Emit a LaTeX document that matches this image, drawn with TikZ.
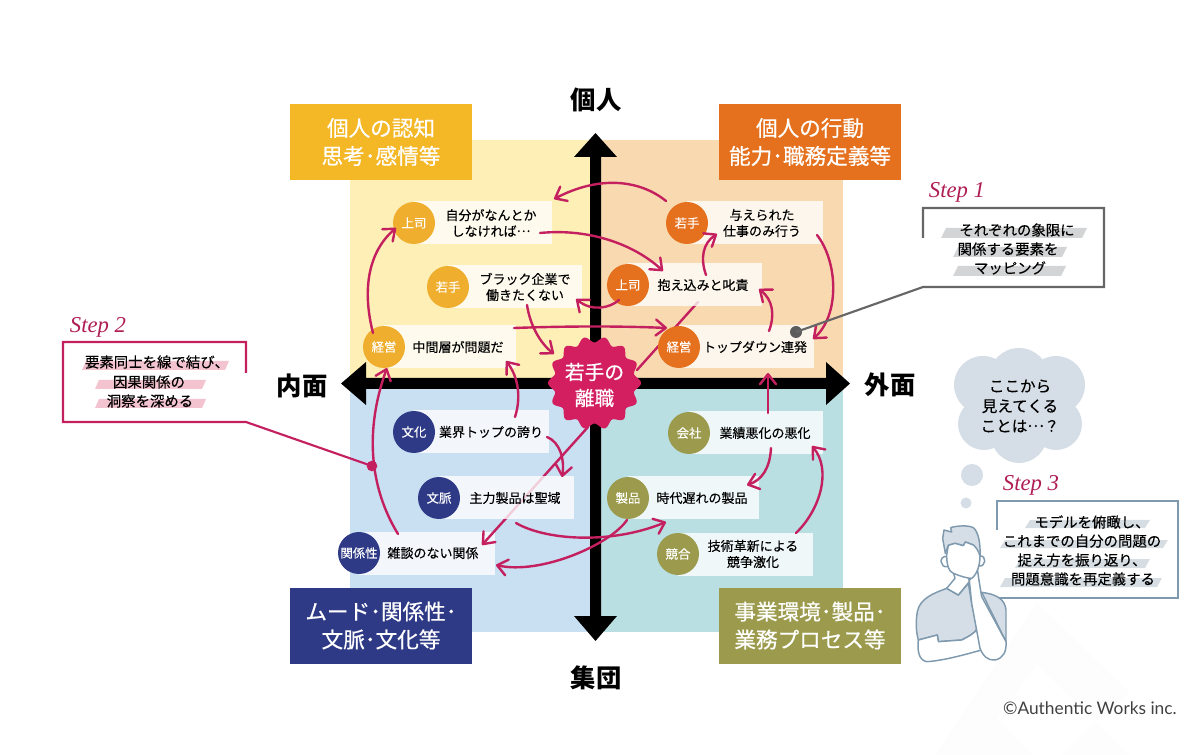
\documentclass[tikz,border=0pt]{standalone}
\usepackage{fontspec}
\usetikzlibrary{arrows.meta}
\setmainfont{Noto Sans CJK JP}
\newfontfamily\jpm[FakeBold=0.2]{Noto Sans CJK JP}
\newfontfamily\jpx[FakeBold=0.5]{Noto Sans CJK JP}
\newfontfamily\latinfont{Lato}
\newfontfamily\stepfont{Liberation Serif}
\definecolor{qY}{HTML}{FDEFB5}
\definecolor{qO}{HTML}{F9DAB0}
\definecolor{qB}{HTML}{C9DFF2}
\definecolor{qT}{HTML}{B9DFE3}
\definecolor{cY}{HTML}{EFAE2E}
\definecolor{cO}{HTML}{E5711E}
\definecolor{cN}{HTML}{2E3A86}
\definecolor{cG}{HTML}{9C9B4D}
\definecolor{bY}{HTML}{F4B725}
\definecolor{crim}{HTML}{C4205F}
\definecolor{burstc}{HTML}{D31F60}
\definecolor{stepG}{HTML}{666666}
\definecolor{stepB}{HTML}{7F9AAE}
\definecolor{hlG}{HTML}{D3D4D5}
\definecolor{hlP}{HTML}{F3C3CF}
\definecolor{hlB}{HTML}{D7DEE3}
\definecolor{cloudc}{HTML}{D5DEE6}
\definecolor{faint}{HTML}{FDFDFE}
\tikzset{
  itembox/.style={fill=white,fill opacity=.78,inner sep=0pt,minimum height=32.25pt},
  itemcirc/.style={circle,fill=#1,inner sep=0pt,minimum size=31.5pt,text=white,font=\jpm\fontsize{9.3}{11}\selectfont},
  itemtext/.style={align=center,inner sep=0pt,text=black,font=\jpm\fontsize{9.75}{12}\selectfont},
  headbox/.style={fill=#1,inner sep=0pt,minimum width=136.5pt,minimum height=57pt,text=white,align=center,font=\jpx\fontsize{16.2}{21}\selectfont},
  axislabel/.style={inner sep=0pt,text=black,font=\bfseries\fontsize{19}{20}\selectfont},
  arrowline/.style={draw=crim,line width=1.8pt,line cap=round,-{Straight Barb[length=7.5pt,width=12pt,round]}},
  plainline/.style={draw=crim,line width=1.8pt,line cap=round},
  steptext/.style={inner sep=0pt,text=black,font=\jpm\fontsize{10.8}{12}\selectfont},
  steplabel/.style={inner sep=0pt,text=crim!90!black,font=\stepfont\itshape\fontsize{17}{18}\selectfont},
  cloudtext/.style={align=center,inner sep=0pt,text=black,font=\jpm\fontsize{11.7}{15}\selectfont},
  manline/.style={draw=stepB,line width=1.1pt,line join=round,line cap=round}
}
\newcommand{\quaditem}[8]{%
  \pgfmathsetmacro\itemw{(#4-#2)*0.75}
  \node[itembox,minimum width=\itemw pt] (#1) at ({(#2+#4)/2},#3) {};
  \node[itemcirc=#5] (#1c) at (#2,#3) {#6};
  \node[itemtext] (#1t) at (#7,#3) {#8};
}
\newcommand{\hl}[6]{% colour, xl, xr, ytop, ybot, slant
  \fill[#1] (#2,#5) -- ({#2+#6},#4) -- (#3,#4) -- ({#3-#6},#5) -- cycle;
}
\newcommand{\midell}{\raisebox{.32em}{…}}
\begin{document}
\begin{tikzpicture}[x=0.75pt,y=-0.75pt]
\useasboundingbox (0,0) rectangle (1200,755);
% faint background shape
\fill[faint] (1037,602) -- (1130,693) -- (1095,722) -- (1130,755) -- (1062,755) -- (1095,722) -- (1037,665) -- (997,718) -- (1033,755) -- (935,755) -- cycle;
% quadrants
\fill[qY] (350,140) rectangle (596,384);
\fill[qO] (596,140) rectangle (843,384);
\fill[qB] (350,384) rectangle (596,632);
\fill[qT] (596,384) rectangle (843,632);
% axes
\fill[black] (595.5,133) -- (617,157) -- (601,157) -- (601,616) -- (617,616) -- (595.5,641) -- (574,616) -- (590,616) -- (590,157) -- (574,157) -- cycle;
\fill[black] (341,383.5) -- (366,362) -- (366,378) -- (826,378) -- (826,362) -- (850,383.5) -- (826,405) -- (826,389) -- (366,389) -- (366,405) -- cycle;
\coordinate (burst) at (594.5,383);
\coordinate (underB) at (504.5,520);
% connectors that run under the item boxes
\draw[plainline] ([shift={(-6.5,44)}]burst) -- (underB);
\draw[plainline] ([shift={(42.5,-13)}]burst) -- (698,302);
% head boxes
\node[headbox=bY] (hTL) at (381,142) {個人の認知\\思考･感情等};
\node[headbox=cO] (hTR) at (810,142) {個人の行動\\能力･職務定義等};
\node[headbox=cN] (hBL) at (381,625.5) {ムード･関係性･\\文脈･文化等};
\node[headbox=cG] (hBR) at (810,625.5) {事業環境･製品･\\業務プロセス等};
% axis labels
\node[axislabel] (lTop) at (596,100) {個人};
\node[axislabel] (lBot) at (596,678) {集団};
\node[axislabel] (lLeft) at (302,386) {内面};
\node[axislabel] (lRight) at (890,385) {外面};
% items
\quaditem{tlA}{414}{223}{552}{cY}{上司}{491}{自分がなんとか\\しなければ\midell}
\quaditem{tlB}{448}{287}{582}{cY}{若手}{525}{ブラック企業で\\働きたくない}
\quaditem{tlC}{384}{347}{516}{cY}{経営}{458}{中間層が問題だ}
\quaditem{trA}{687}{223}{823}{cO}{若手}{762}{与えられた\\仕事のみ行う}
\quaditem{trB}{628}{285}{762}{cO}{上司}{703}{抱え込みと叱責}
\quaditem{trC}{679}{347}{814}{cO}{経営}{755}{トップダウン連発}
\quaditem{blA}{414}{432}{549}{cN}{文化}{491}{業界トップの誇り}
\quaditem{blB}{439}{498}{574}{cN}{文脈}{515}{主力製品は聖域}
\quaditem{blC}{359}{553}{495}{cN}{関係性}{433}{雑談のない関係}
\quaditem{brA}{689}{433}{823}{cG}{会社}{765}{業績悪化の悪化}
\quaditem{brB}{628}{498}{759}{cG}{製品}{702}{時代遅れの製品}
\quaditem{brC}{678}{554}{813}{cG}{競合}{753}{技術革新による\\競争激化}
% connectors
\draw[arrowline] (underB) -- ([shift={(55,-8)}]blC.center);
\draw[arrowline] ([shift={(-77,-14)}]tlC.center) .. controls (362,290) and (368,252) .. ([shift={(-87,5)}]tlA.center);
\draw[arrowline] ([shift={(-89,-22)}]trA.center) .. controls (640,180) and (600,175) .. ([shift={(71,-24)}]tlA.center);
\draw[arrowline] ([shift={(57,10)}]tlA.center) .. controls (590,228) and (635,245) .. ([shift={(-32,-14)}]trB.center);
\draw[arrowline] ([shift={(-76,15)}]trB.center) .. controls (610,308) and (592,312) .. ([shift={(61,12)}]tlB.center);
\draw[arrowline] ([shift={(12,18)}]tlB.center) .. controls (530,325) and (540,343) .. ([shift={(-40.5,-29)}]burst);
\draw[arrowline] ([shift={(64,-19)}]tlC.center) .. controls (570,326) and (620,326) .. ([shift={(-79.5,-19)}]trC.center);
\draw[arrowline] ([shift={(33.5,-15)}]blA.center) .. controls (522,395) and (517,375) .. ([shift={(56,14)}]tlC.center);
\draw[arrowline] ([shift={(-29,-19)}]blC.center) .. controls (365,480) and (368,420) .. ([shift={(-63,21)}]tlC.center);
\draw[arrowline] ([shift={(65.5,5)}]blA.center) .. controls (560,442) and (565,460) .. ([shift={(55.5,-21)}]blB.center);
\draw[arrowline] ([shift={(11,-10)}]trB.center) .. controls (700,258) and (703,243) .. ([shift={(-38,11)}]trA.center);
\draw[arrowline] ([shift={(62,12)}]trA.center) .. controls (838,262) and (840,315) .. ([shift={(66.5,-8)}]trC.center);
\draw[arrowline] ([shift={(22.5,-16)}]trC.center) .. controls (775,315) and (773,300) .. ([shift={(64,4)}]trB.center);
\draw[arrowline] ([shift={(12,-20)}]brA.center) -- ([shift={(21.5,26)}]trC.center);
\draw[arrowline] ([shift={(15,15)}]brA.center) .. controls (770,468) and (762,480) .. ([shift={(53.5,-13)}]brB.center);
\draw[arrowline] ([shift={(50.5,-21)}]brC.center) .. controls (820,510) and (832,470) .. ([shift={(56,13)}]brA.center);
\draw[arrowline] ([shift={(9.5,25)}]blB.center) .. controls (545,540) and (610,545) .. ([shift={(-27.5,24)}]brB.center);
\draw[arrowline] ([shift={(-66.5,22)}]brB.center) .. controls (610,545) and (540,575) .. ([shift={(69,12)}]blC.center);
% burst
\fill[burstc] plot[domain=0:360,samples=169] ({594.5+(43.5+3*cos(14*\x))*cos(\x)},{383+(43.5+3*cos(14*\x))*sin(\x)}) -- cycle;
\node[align=center,inner sep=0pt,text=white,font=\jpx\fontsize{14.8}{19.5}\selectfont] (burstt) at (594.5,385) {若手の\\離職};
% Step 1
\node[steplabel] (s1l) at (957,192) {Step 1};
\node[circle,fill=stepG!90!black,inner sep=0pt,minimum size=9pt] (dot1) at (796,332) {};
\draw[stepG,line width=1.6pt] (923,238) -- (923,208) -- (1104,208) -- (1104,287) -- (923,287) -- (dot1.center);
\hl{hlG}{941}{1087}{228}{238}{5}
\hl{hlG}{953}{1067}{247}{257}{5}
\hl{hlG}{953}{1066}{266}{276}{5}
\node[steptext] (s1a) at (1017,230) {それぞれの象限に};
\node[steptext] (s1b) at (1008,249) {関係する要素を};
\node[steptext] (s1c) at (1010,268) {マッピング};
% Step 2
\node[steplabel] (s2l) at (98,327) {Step 2};
\node[circle,fill=crim,inner sep=0pt,minimum size=8pt] (dot2) at (372,466) {};
\draw[crim,line width=1.6pt] (246,373) -- (246,342) -- (63,342) -- (63,422) -- (246,422) -- (dot2.center);
\hl{hlP}{82}{229}{361}{370}{4}
\hl{hlP}{95}{206}{380}{389}{4}
\hl{hlP}{95}{206}{399}{408}{4}
\node[steptext] (s2a) at (157,362) {要素同士を線で結び、};
\node[steptext] (s2b) at (149,382) {因果関係の};
\node[steptext] (s2c) at (150,401) {洞察を深める};
% cloud
\fill[cloudc] (1019,378) circle (30) (983,385) circle (29) (1056,385) circle (29) (984,424) circle (26) (1056,424) circle (26) (1019,435) circle (28) (1019,405) circle (40);
\fill[cloudc] (972,475) circle (11) (966,503) circle (5.5);
\node[cloudtext] (cloudt) at (1020,406) {ここから\\見えてくる\\ことは\midell ？};
% Step 3
\node[steplabel] (s3l) at (1031,485) {Step 3};
\draw[stepB,line width=1.6pt] (997,530) -- (997,501) -- (1178,501) -- (1178,598) -- (998,598);
\hl{hlB}{1025}{1150}{520}{528}{5}
\hl{hlB}{1000}{1168}{540}{548}{5}
\hl{hlB}{1015}{1150}{559}{568}{5}
\hl{hlB}{1000}{1162}{578}{587}{5}
\node[steptext] (s3a) at (1092,522) {モデルを俯瞰し、};
\node[steptext] (s3b) at (1082,541) {これまでの自分の問題の};
\node[steptext] (s3c) at (1082,560) {捉え方を振り返り、};
\node[steptext] (s3d) at (1083,579) {問題意識を再定義する};
% person
\begin{scope}[shift={(900,340)},x=0.25pt,y=-0.25pt]
  \filldraw[manline,fill=cloudc] (140,745) .. controls (100,760) and (60,775) .. (52,815) .. controls (47,845) and (48,875) .. (55,900) -- (112,885) -- (115,905) -- (185,900) .. controls (205,890) and (225,880) .. (232,865) -- (215,790) -- (205,730) -- (175,765) -- cycle;
  \filldraw[manline,fill=white] (55,900) .. controls (52,930) and (55,960) .. (80,965) .. controls (130,962) and (190,945) .. (245,930) -- (232,865) .. controls (225,880) and (205,890) .. (185,900) -- (115,905) -- (112,885) -- cycle;
  \filldraw[manline,fill=cloudc] (245,757) .. controls (285,762) and (315,775) .. (318,810) -- (318,905) -- cycle;
  \filldraw[manline,fill=white] (208,722) -- (215,790) -- (240,925) .. controls (250,950) and (265,962) .. (285,960) .. controls (310,955) and (320,935) .. (318,905) -- (245,770) .. controls (240,740) and (235,710) .. (232,685) -- cycle;
  \filldraw[manline,fill=white] (160,697) -- (165,715) -- (140,745) -- (175,765) -- (208,725) -- (205,712) -- cycle;
  \filldraw[manline,fill=white] (142,650) .. controls (115,645) and (118,685) .. (144,680) -- cycle;
  \filldraw[manline,fill=white] (238,648) .. controls (262,645) and (258,682) .. (236,678) -- cycle;
  \filldraw[manline,fill=cloudc] (136,640) -- (128,595) -- (132,570) -- (155,576) -- (152,563) .. controls (170,557) and (205,555) .. (220,563) .. controls (235,575) and (242,610) .. (240,650) -- (220,615) -- (196,606) -- (190,617) -- (165,610) -- (145,616) -- cycle;
  \filldraw[manline,fill=white] (140,645) .. controls (140,670) and (145,695) .. (160,700) .. controls (180,708) and (200,715) .. (215,715) .. controls (230,705) and (240,675) .. (240,650) .. controls (238,635) and (228,622) .. (220,615) -- (196,606) -- (190,617) -- (165,610) -- (145,616) -- cycle;
\end{scope}
% copyright
\node[anchor=east,inner sep=0pt,text=black!75,font=\latinfont\fontsize{13}{14}\selectfont] (copy) at (1177,708) {©Authentic Works inc.};
\end{tikzpicture}
\end{document}
